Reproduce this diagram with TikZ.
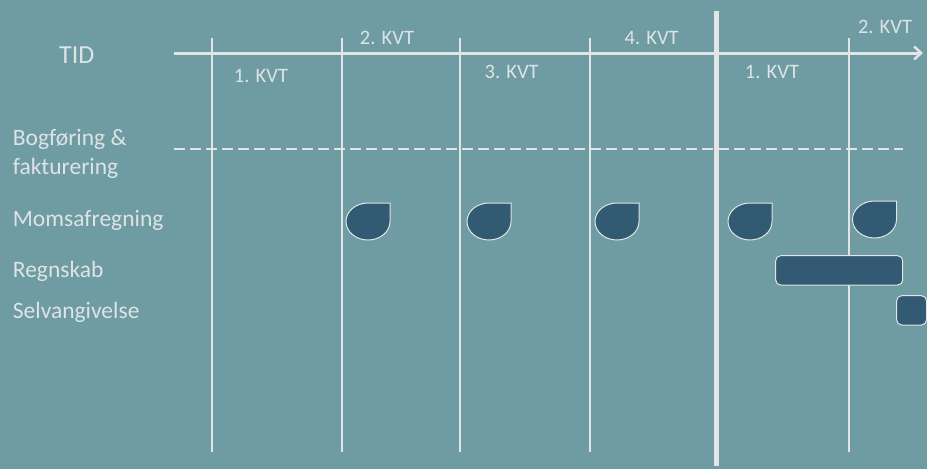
\documentclass[tikz,border=0pt]{standalone}
\usepackage{fontspec}
\setmainfont{Carlito}
\usetikzlibrary{arrows.meta}
\definecolor{bg}{HTML}{6F9BA3}
\definecolor{ln}{HTML}{E2E4E5}
\definecolor{tx}{HTML}{DDE4E6}
\definecolor{dk}{HTML}{325A73}
\tikzset{
  thinv/.style={draw=ln,line width=2pt},
  thickv/.style={draw=ln,line width=5.5pt},
  axisline/.style={draw=ln,line width=3pt,-{Straight Barb[length=7pt,width=13pt,line width=2.5pt]}},
  dashline/.style={draw=ln,line width=2.6pt,dash pattern=on 11pt off 5pt},
  kvt/.style={text=tx,font=\fontsize{20.5}{24}\selectfont,inner sep=0pt,anchor=base},
  rowlab/.style={text=tx,font=\fontsize{23.5}{29}\selectfont,inner sep=0pt,anchor=base west,align=left},
  shapebox/.style={fill=dk,draw=ln,line width=1pt},
  pics/drop/.style={code={
    \draw[shapebox] (44,0) -- (44,18.5) .. controls (44,28.72) and (34.15,37) .. (22,37)
      .. controls (9.85,37) and (0,28.72) .. (0,18.5)
      .. controls (0,8.28) and (9.85,0) .. (22,0) -- cycle;
  }}
}
\begin{document}
\begin{tikzpicture}[x=1pt,y=-1pt]
\useasboundingbox[fill=bg] (0,0) rectangle (927,469);
% vertical lines
\coordinate (v1t) at (212,38); \coordinate (v1b) at (212,452);
\coordinate (v2t) at (342,38); \coordinate (v2b) at (342,452);
\coordinate (v3t) at (460,38); \coordinate (v3b) at (460,452);
\coordinate (v4t) at (590,38); \coordinate (v4b) at (590,452);
\coordinate (v5t) at (716.5,11); \coordinate (v5b) at (716.5,466);
\coordinate (v6t) at (849,38); \coordinate (v6b) at (849,452);
\draw[thinv] (v1t) -- (v1b);
\draw[thinv] (v2t) -- (v2b);
\draw[thinv] (v3t) -- (v3b);
\draw[thinv] (v4t) -- (v4b);
\draw[thickv] (v5t) -- (v5b);
\draw[thinv] (v6t) -- (v6b);
% axis
\coordinate (axs) at (174,53);
\coordinate (axe) at (923,53);
\draw[axisline] (axs) -- (axe);
% dashed line
\coordinate (ds) at (174,149);
\coordinate (de) at (903,149);
\draw[dashline] (ds) -- (de);
% labels
\node[text=tx,font=\fontsize{26}{30}\selectfont,inner sep=0pt,anchor=base] (tid) at (76.7,63) {TID};
\node[kvt] (k1) at (261,82) {1. KVT};
\node[kvt] (k2) at (387,44.3) {2. KVT};
\node[kvt] (k3) at (511.7,78) {3. KVT};
\node[kvt] (k4) at (651.7,44) {4. KVT};
\node[kvt] (k5) at (772,78) {1. KVT};
\node[kvt] (k6) at (885,33) {2. KVT};
\node[rowlab] (bog) at (12.7,174) {Bogføring \&\\fakturering};
\node[rowlab] (moms) at (12.7,226) {Momsafregning};
\node[rowlab] (regn) at (12.7,277) {Regnskab};
\node[rowlab] (selv) at (12.7,318) {Selvangivelse};
% drops
\pic at (346,203) {drop};
\pic at (467,203) {drop};
\pic at (595,203) {drop};
\pic at (728,203) {drop};
\pic at (852.5,201) {drop};
% bars
\draw[shapebox,rounded corners=5pt] (775.7,255.7) rectangle (902.7,285) node[pos=0.5,inner sep=0pt] (regnbar) {};
\draw[shapebox,rounded corners=5pt] (896.7,295.7) rectangle (926.5,325) node[pos=0.5,inner sep=0pt] (selvbar) {};
\end{tikzpicture}
\end{document}
